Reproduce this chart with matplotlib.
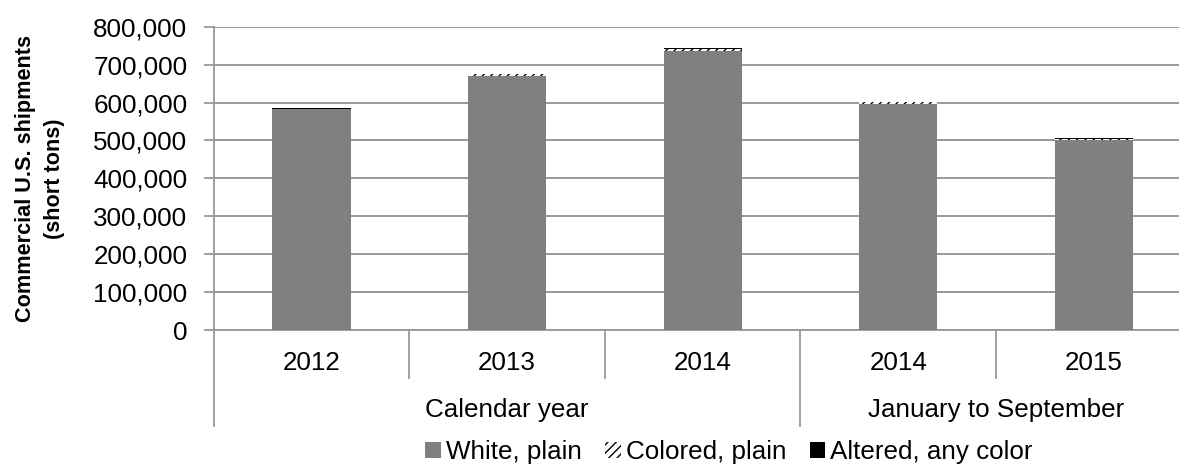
import numpy as np
import matplotlib.pyplot as plt
from matplotlib.patches import Patch
from matplotlib.transforms import blended_transform_factory

plt.rcParams['font.family'] = ['Liberation Sans', 'DejaVu Sans']
plt.rcParams['hatch.linewidth'] = 1.0

years = ["2012", "2013", "2014", "2014", "2015"]
groups = ["Calendar year", "January to September"]
group_spans = [(0, 2), (3, 4)]
white_plain = [582000, 670500, 736000, 596000, 500000]
colored_plain = [1000, 3800, 4800, 4400, 5000]
altered = [3500, 600, 2500, 2000, 1000]
legend_labels = ["White, plain", "Colored, plain", "Altered, any color"]

FS = 18.7
W, H = 1179, 466
fig = plt.figure(figsize=(W / 100, H / 100), dpi=100)
ax = fig.add_axes([213.7 / W, 1 - 330 / H, 978 / W, 303.3 / H])

x = np.arange(len(years))
w = 0.4
ax.bar(x, white_plain, width=w, color="#808080", zorder=3)
b1 = np.array(white_plain)
ax.bar(x, colored_plain, width=w, bottom=b1, facecolor="white",
       edgecolor="black", hatch="////", linewidth=0, zorder=3)
b2 = b1 + np.array(colored_plain)
ax.bar(x, altered, width=w, bottom=b2, color="black", zorder=3)

ax.set_xlim(-0.5, 4.5)
ax.set_ylim(0, 800000)
ax.set_yticks(np.arange(0, 800001, 100000))
ax.set_yticklabels([f"{v:,}" for v in range(0, 800001, 100000)], fontsize=FS)
ax.tick_params(axis="y", length=7, width=1.3, color="#999999", pad=12)
ax.yaxis.grid(True, color="#999999", linewidth=1.4, zorder=0)
ax.set_axisbelow(True)
for s in ["top", "right"]:
    ax.spines[s].set_visible(False)
ax.spines["left"].set_color("#999999")
ax.spines["left"].set_linewidth(1.3)
ax.spines["bottom"].set_color("#999999")
ax.spines["bottom"].set_linewidth(1.3)
ax.set_xticks([])

# multi-level category axis
tr = blended_transform_factory(ax.transData, ax.transAxes)
for i, yr in enumerate(years):
    ax.text(i, -0.109, yr, transform=tr, ha="center", va="center", fontsize=FS)
for g, (a, b) in zip(groups, group_spans):
    ax.text((a + b) / 2, -0.264, g, transform=tr, ha="center", va="center", fontsize=FS)
for sx in [0.5, 1.5, 3.5, 4.5]:
    ax.plot([sx, sx], [0, -0.158], transform=tr, color="#999999", lw=1.3, clip_on=False)
for sx in [-0.5, 2.5]:
    ax.plot([sx, sx], [0, -0.3165], transform=tr, color="#999999", lw=1.3, clip_on=False)

fig.text(40 / W, 1 - 179 / H, "Commercial U.S. shipments\n(short tons)", rotation=90,
         ha="center", va="center", fontsize=15.6, fontweight="bold", linespacing=1.45)

handles = [Patch(facecolor="#808080"),
           Patch(facecolor="white", edgecolor="black", hatch="////", linewidth=0),
           Patch(facecolor="black")]
fig.legend(handles, legend_labels, loc="center", bbox_to_anchor=(729 / W, 1 - 452 / H),
           ncol=3, frameon=False, fontsize=FS, handlelength=0.6, handleheight=0.6,
           handletextpad=0.2, columnspacing=0.9, borderpad=0)

fig.savefig("out.png", dpi=100)
